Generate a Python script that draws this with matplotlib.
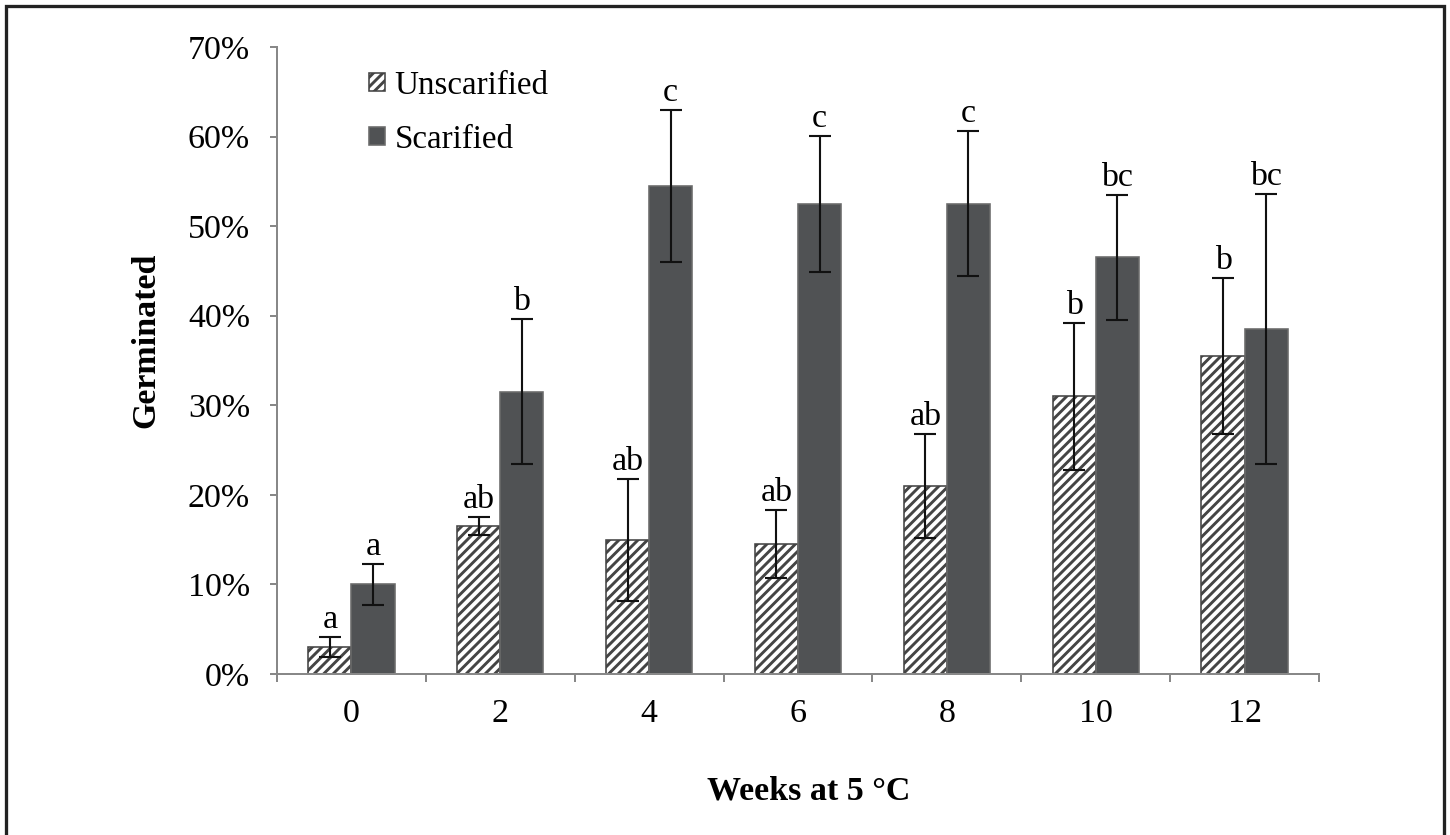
# Germination chart: unscarified vs scarified seeds after cold stratification
import matplotlib
matplotlib.use("Agg")
import matplotlib.pyplot as plt
import numpy as np
from matplotlib.patches import Rectangle
from matplotlib.ticker import FuncFormatter

# data (percent)
weeks = ["0", "2", "4", "6", "8", "10", "12"]
unscarified = [3.0, 16.5, 15.0, 14.5, 21.0, 31.0, 35.5]
unscarified_err = [1.1, 1.0, 6.8, 3.8, 5.8, 8.2, 8.7]
scarified = [10.0, 31.5, 54.5, 52.5, 52.5, 46.5, 38.5]
scarified_err = [2.3, 8.1, 8.5, 7.6, 8.1, 7.0, 15.1]
unscarified_letters = ["a", "ab", "ab", "ab", "ab", "b", "b"]
scarified_letters = ["a", "b", "c", "c", "c", "bc", "bc"]

DPI = 114
W, H = 1450, 835


def px(v):
    # pixels -> points
    return v * 72.0 / DPI


plt.rcParams["font.family"] = ["Liberation Serif", "DejaVu Serif"]
plt.rcParams["hatch.linewidth"] = px(2.9)
plt.rcParams["hatch.color"] = "#2a2a2a"

fig = plt.figure(figsize=(W / DPI, H / DPI), dpi=DPI)
ax = fig.add_axes([277 / W, 1 - 674 / H, (1319 - 277) / W, (674 - 47) / H])

x = np.arange(len(weeks))
w = 0.29
gray = "#888888"
fs = px(34)

ax.bar(x - w / 2, unscarified, w, color="white", edgecolor="#444444",
       hatch="////", linewidth=px(1.6), label="Unscarified", zorder=2)
ax.bar(x + w / 2, scarified, w, color="#505254", edgecolor="#6a6a6a",
       linewidth=px(1.6), label="Scarified", zorder=2)

# error bars
for xs, vals, errs in [(x - w / 2, unscarified, unscarified_err),
                       (x + w / 2, scarified, scarified_err)]:
    ax.errorbar(xs, vals, yerr=errs, fmt="none", ecolor="#111111",
                elinewidth=px(2.1), capsize=px(11), capthick=px(2.1), zorder=3)

# significance letters
for xs, vals, errs, letters in [(x - w / 2, unscarified, unscarified_err, unscarified_letters),
                                (x + w / 2, scarified, scarified_err, scarified_letters)]:
    for xi, v, e, t in zip(xs, vals, errs, letters):
        ax.annotate(t, (xi, v + e), xytext=(0, px(9)), textcoords="offset points",
                    ha="center", va="baseline", fontsize=fs)

ax.set_xlim(-0.5, len(weeks) - 0.5)
ax.set_ylim(0, 70)
ax.set_yticks(np.arange(0, 71, 10))
ax.yaxis.set_major_formatter(FuncFormatter(lambda v, p: "%d%%" % v))

# ticks on category boundaries, labels at centres
ax.set_xticks(np.arange(-0.5, len(weeks), 1.0))
ax.set_xticklabels([])
ax.set_xticks(x, minor=True)
ax.set_xticklabels(weeks, minor=True)
ax.tick_params(axis="x", which="major", length=px(8), width=px(2), color=gray, direction="out")
ax.tick_params(axis="x", which="minor", length=0, pad=px(24), labelsize=fs)
ax.tick_params(axis="y", length=px(7), width=px(2), color=gray, direction="out",
               labelsize=fs, pad=px(20))

for s in ["top", "right"]:
    ax.spines[s].set_visible(False)
for s in ["left", "bottom"]:
    ax.spines[s].set_color(gray)
    ax.spines[s].set_linewidth(px(2))

fig.text(146 / W, 1 - 340 / H, "Germinated", rotation=90, ha="center", va="center",
         fontsize=fs, fontweight="bold")
fig.text(809 / W, 1 - 800 / H, "Weeks at 5 \u00b0C", ha="center", va="baseline",
         fontsize=fs, fontweight="bold")

ax.legend(loc="upper left", bbox_to_anchor=(0.066, 1.0), frameon=False,
          fontsize=px(33), handlelength=0.48, handleheight=0.48,
          handletextpad=0.3, labelspacing=0.72, borderaxespad=0.3)

# outer frame (bottom edge runs off the canvas)
fig.patches.append(Rectangle((6 / W, -0.05), (1444 - 6) / W, 1.05 - 6 / H,
                             transform=fig.transFigure, fill=False,
                             edgecolor="#222222", linewidth=px(3.3)))

fig.savefig("out.png", dpi=DPI)
